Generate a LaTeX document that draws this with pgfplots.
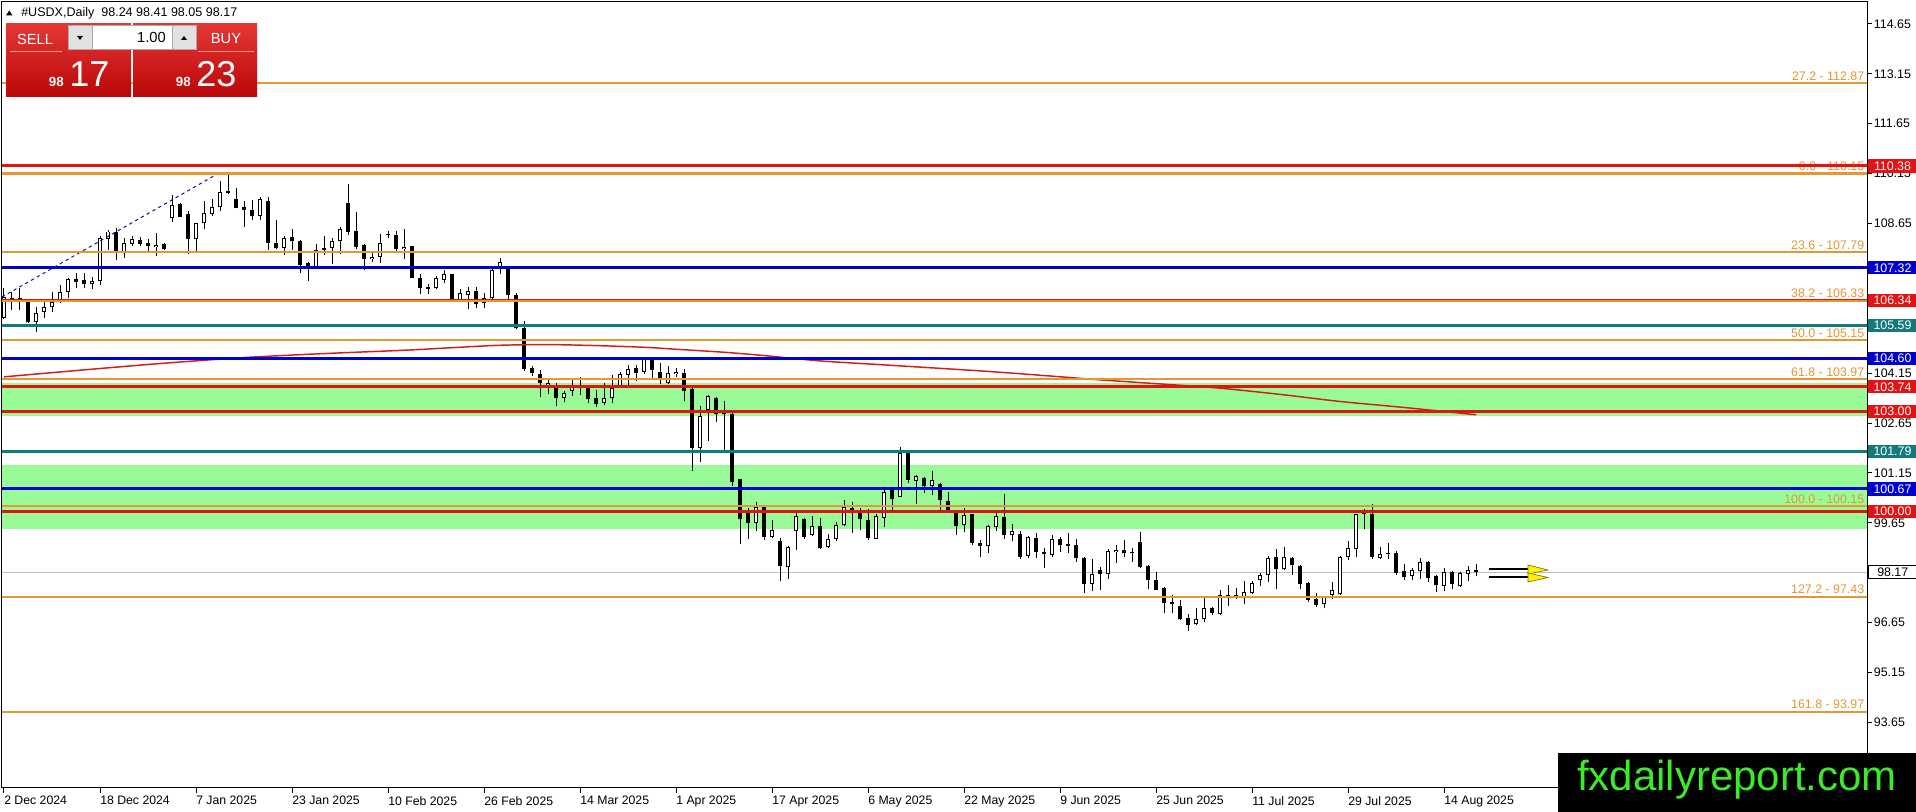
\documentclass[border=0pt]{standalone}
\usepackage{fontspec}
\setmainfont{Liberation Sans}
\usepackage{pgfplots}
\pgfplotsset{compat=1.18}
\usepackage{pgfplotstable}

\definecolor{lvred}{RGB}{228,18,18}
\definecolor{lvblue}{RGB}{0,0,210}
\definecolor{lvteal}{RGB}{18,122,122}
\definecolor{fibor}{RGB}{230,150,50}
\definecolor{zone}{RGB}{152,251,152}
\definecolor{mared}{RGB}{208,30,30}
\definecolor{wm}{RGB}{60,235,40}
\definecolor{btntop}{RGB}{228,56,54}
\definecolor{btnbot}{RGB}{186,6,6}
\definecolor{bidgray}{RGB}{190,190,190}
\definecolor{trend}{RGB}{20,20,150}
\definecolor{pinkline}{RGB}{245,150,150}
\definecolor{btngray}{RGB}{225,225,225}
\definecolor{edgegray}{RGB}{170,170,170}
\definecolor{olive2}{RGB}{120,120,0}

\pgfplotstableread{
i o h l c
0 105.80 106.70 105.77 106.45
1 106.30 106.60 106.05 106.40
2 106.40 106.70 106.05 106.35
3 106.30 106.35 105.65 105.68
4 105.68 106.15 105.40 105.95
5 105.98 106.30 105.80 106.15
6 106.13 106.60 106.00 106.30
7 106.30 106.80 106.25 106.60
8 106.60 107.00 106.40 106.97
9 106.98 107.15 106.70 106.90
10 106.95 107.15 106.70 106.82
11 106.82 107.05 106.67 106.92
12 106.92 108.26 106.80 108.21
13 108.19 108.46 107.85 108.41
14 108.38 108.51 107.55 107.83
15 107.75 108.22 107.62 108.06
16 108.03 108.28 107.97 108.19
17 108.16 108.24 107.96 108.04
18 108.07 108.19 107.83 107.96
19 107.93 108.36 107.68 108.00
20 108.03 108.06 107.85 107.88
21 108.81 109.51 108.71 109.21
22 109.23 109.26 108.84 108.86
23 108.94 109.03 107.72 108.19
24 108.19 108.68 107.83 108.66
25 108.66 109.34 108.49 108.96
26 108.94 109.38 108.88 109.14
27 109.14 109.94 109.04 109.59
28 109.63 110.15 109.54 109.56
29 109.38 109.71 109.11 109.13
30 109.15 109.34 108.56 109.07
31 109.06 109.36 108.76 108.89
32 108.89 109.44 108.76 109.38
33 109.33 109.44 107.85 108.06
34 108.06 108.76 107.87 107.92
35 107.92 108.26 107.70 108.21
36 108.24 108.48 107.85 108.11
37 108.11 108.16 107.17 107.40
38 107.47 107.50 106.93 107.35
39 107.35 108.02 107.33 107.85
40 107.85 108.26 107.70 107.90
41 107.90 108.20 107.43 108.12
42 108.12 108.56 107.72 108.49
43 109.26 109.84 108.29 108.39
44 108.43 108.99 107.87 107.95
45 108.00 108.03 107.25 107.57
46 107.57 107.77 107.50 107.65
47 107.65 108.33 107.47 108.06
48 108.31 108.43 108.21 108.34
49 108.31 108.43 107.75 107.88
50 107.87 108.48 107.58 107.95
51 107.97 107.98 107.00 107.02
52 107.02 107.12 106.52 106.72
53 106.74 106.82 106.52 106.68
54 106.70 107.07 106.67 107.00
55 106.94 107.24 106.87 107.12
56 107.12 107.14 106.33 106.35
57 106.35 106.69 106.34 106.57
58 106.49 106.74 106.07 106.62
59 106.62 106.74 106.12 106.22
60 106.27 106.57 106.10 106.42
61 106.40 107.27 106.37 107.24
62 107.34 107.62 107.12 107.49
63 107.27 107.37 106.39 106.49
64 106.49 106.57 105.47 105.50
65 105.52 105.72 104.22 104.27
66 104.30 104.37 104.07 104.17
67 104.12 104.24 103.42 103.87
68 103.77 104.02 103.52 103.87
69 103.79 103.87 103.16 103.40
70 103.40 103.62 103.29 103.55
71 103.60 104.02 103.46 103.77
72 103.74 104.04 103.49 103.79
73 103.70 103.77 103.26 103.36
74 103.39 103.63 103.14 103.21
75 103.24 103.87 103.19 103.41
76 103.39 104.09 103.26 103.72
77 103.77 104.20 103.76 104.12
78 104.10 104.40 103.77 104.27
79 104.32 104.39 103.92 104.17
80 104.20 104.64 104.14 104.57
81 104.57 104.64 104.02 104.24
82 104.19 104.45 103.84 104.02
83 103.87 104.37 103.82 104.15
84 104.12 104.32 104.04 104.19
85 104.17 104.27 103.31 103.62
86 103.67 103.72 101.21 101.91
87 101.89 103.16 101.49 102.86
88 103.04 103.49 102.11 103.46
89 103.41 103.43 102.68 102.93
90 102.91 103.31 101.83 102.96
91 102.93 102.96 100.76 100.89
92 100.96 100.98 99.01 99.76
93 99.96 100.11 99.16 99.66
94 99.66 100.29 99.41 100.13
95 100.13 100.15 99.13 99.23
96 99.24 99.73 99.19 99.43
97 99.10 99.20 97.90 98.35
98 98.31 98.95 97.97 98.93
99 99.40 99.94 98.83 99.87
100 99.77 99.81 99.18 99.23
101 99.28 99.87 99.25 99.55
102 99.55 99.81 98.86 98.88
103 98.93 99.33 98.88 99.16
104 99.16 99.69 99.10 99.58
105 99.58 100.34 99.56 100.12
106 100.11 100.29 99.36 99.99
107 99.94 100.09 99.43 99.77
108 99.74 100.07 99.13 99.20
109 99.18 99.91 99.16 99.86
110 99.81 100.74 99.53 100.59
111 100.64 100.74 99.99 100.37
112 100.44 101.94 100.42 101.75
113 101.75 101.78 100.84 100.94
114 100.91 101.10 100.21 101.05
115 101.01 101.03 100.54 100.77
116 100.76 101.22 100.49 100.94
117 100.81 100.84 99.99 100.34
118 100.31 100.57 99.97 100.01
119 99.94 99.99 99.30 99.55
120 99.58 100.09 99.38 99.89
121 99.91 99.93 99.00 99.06
122 99.06 99.15 98.63 98.95
123 98.95 99.59 98.73 99.55
124 99.53 99.94 99.40 99.87
125 99.84 100.51 99.18 99.30
126 99.28 99.63 99.10 99.40
127 99.33 99.40 98.56 98.63
128 98.65 99.26 98.58 99.23
129 99.20 99.36 98.60 98.76
130 98.78 98.90 98.30 98.70
131 98.68 99.30 98.63 99.16
132 99.16 99.23 98.78 98.98
133 98.95 99.36 98.73 99.01
134 99.00 99.18 98.48 98.58
135 98.60 98.62 97.55 97.82
136 97.82 98.56 97.59 98.10
137 98.23 98.33 97.64 98.10
138 98.10 98.86 97.97 98.81
139 98.76 98.98 98.43 98.83
140 98.83 99.13 98.63 98.73
141 98.78 98.90 98.48 98.73
142 99.08 99.38 98.30 98.33
143 98.36 98.38 97.67 97.92
144 97.92 98.18 97.62 97.64
145 97.69 97.71 96.95 97.25
146 97.27 97.47 96.95 97.20
147 97.14 97.32 96.73 96.75
148 96.79 96.92 96.39 96.59
149 96.62 97.09 96.59 96.75
150 96.75 97.39 96.67 97.09
151 97.09 97.12 96.87 96.95
152 96.92 97.62 96.87 97.49
153 97.49 97.79 97.15 97.45
154 97.45 97.69 97.37 97.47
155 97.39 97.89 97.22 97.57
156 97.54 97.89 97.52 97.85
157 97.92 98.15 97.75 98.07
158 98.07 98.65 97.87 98.59
159 98.62 98.85 97.67 98.25
160 98.25 98.92 98.22 98.62
161 98.59 98.61 98.07 98.39
162 98.35 98.37 97.65 97.82
163 97.84 97.86 97.27 97.32
164 97.37 97.55 97.12 97.17
165 97.20 97.44 97.09 97.42
166 97.47 97.87 97.37 97.62
167 97.52 98.65 97.47 98.62
168 98.62 99.10 98.52 98.90
169 98.87 99.93 98.62 99.91
170 99.91 100.06 99.48 99.93
171 99.91 100.23 98.55 98.62
172 98.60 98.92 98.55 98.70
173 98.70 99.05 98.55 98.71
174 98.75 98.79 98.09 98.15
175 98.19 98.42 97.92 98.02
176 98.04 98.29 97.92 98.22
177 98.19 98.59 97.97 98.47
178 98.47 98.49 97.87 97.99
179 98.04 98.07 97.57 97.77
180 97.74 98.29 97.59 98.17
181 98.17 98.19 97.67 97.80
182 97.75 98.18 97.73 98.14
183 98.10 98.35 97.89 98.22
184 98.24 98.41 98.05 98.17
}\candles

\pgfplotstableread{
i ma
0 104.04
10 104.25
20 104.45
30 104.62
40 104.74
50 104.84
57 104.93
62 104.99
68 105.01
74 104.98
80 104.93
84 104.87
90 104.78
95 104.68
102 104.52
110 104.40
122 104.22
130 104.08
137 103.95
145 103.82
152 103.70
160 103.50
167 103.30
175 103.12
184 102.90
}\matable

\newcommand{\hlevel}[3]{\addplot[#1, line width=#2] coordinates {(-0.25,#3) (232.875,#3)};}

\begin{document}
\begin{tikzpicture}
\useasboundingbox (0,0) rectangle (1437pt,609pt);
\fill[white] (0,0) rectangle (1437pt,609pt);
\begin{axis}[
  at={(1.5pt,18pt)}, anchor=south west,
  scale only axis, width=1398.75pt, height=589.5pt,
  xmin=-0.25, xmax=232.875, ymin=91.68, ymax=115.31,
  clip=false,
  axis line style={black, line width=0.75pt},
  xtick pos=bottom, ytick pos=right, yticklabel pos=right,
  tick align=outside, major tick length=3.75pt,
  tick style={black, line width=0.75pt},
  xtick={0,12,...,180},
  xticklabels={2 Dec 2024,18 Dec 2024,7 Jan 2025,23 Jan 2025,10 Feb 2025,26 Feb 2025,14 Mar 2025,1 Apr 2025,17 Apr 2025,6 May 2025,22 May 2025,9 Jun 2025,25 Jun 2025,11 Jul 2025,29 Jul 2025,14 Aug 2025},
  xticklabel style={font=\fontsize{9.2}{11}\selectfont, anchor=north west, inner sep=0pt, xshift=0pt, yshift=-2.2pt},
  ytick={93.65,95.15,96.65,99.65,101.15,102.65,104.15,108.65,110.15,111.65,113.15,114.65},
  yticklabels={93.65,95.15,96.65,99.65,101.15,102.65,104.15,108.65,110.15,111.65,113.15,114.65},
  yticklabel style={font=\fontsize{9.3}{11}\selectfont, anchor=west, inner sep=0pt, xshift=1.2pt},
]
% zones
\addplot[fill=zone, draw=none] coordinates {(-0.25,102.87) (232.875,102.87) (232.875,103.87) (-0.25,103.87)};
\addplot[fill=zone, draw=none] coordinates {(-0.25,99.47) (232.875,99.47) (232.875,101.40) (-0.25,101.40)};
% bid line
\hlevel{bidgray}{0.75pt}{98.17}
% candles: wicks
\addplot[draw=none, mark=none,
  error bars/.cd, y dir=plus, y explicit, error mark=none,
  error bar style={draw=black, line width=0.75pt}]
  table[x=i, y=l, y error plus expr={\thisrow{h}-\thisrow{l}}] {\candles};
% bodies
\addplot[draw=none, mark=none,
  error bars/.cd, y dir=plus, y explicit, error mark=none,
  error bar style={draw=black, line width=3.6pt}]
  table[x=i, y expr={min(\thisrow{o},\thisrow{c})}, y error plus expr={max(abs(\thisrow{c}-\thisrow{o}),0.03)}] {\candles};
% white interiors for rising candles
\addplot[draw=none, mark=none,
  error bars/.cd, y dir=plus, y explicit, error mark=none,
  error bar style={draw=white, line width=2.1pt}]
  table[x=i, y expr={min(\thisrow{o},\thisrow{c})+0.03}, y error plus expr={(\thisrow{c}>\thisrow{o})*max(\thisrow{c}-\thisrow{o}-0.06,0)}] {\candles};
% moving average
\addplot[mared, line width=1.1pt, smooth] table[x=i, y=ma] {\matable};
% fib trend line
\addplot[trend, line width=0.75pt, dash pattern=on 2.5pt off 2.5pt] coordinates {(-0.25,106.44) (26.6,110.13)};
% fib levels
\hlevel{fibor}{1.75pt}{112.87}
\hlevel{fibor}{1.75pt}{110.15}
\hlevel{fibor}{1.75pt}{107.79}
\hlevel{lvred}{2.25pt}{106.34}
\hlevel{fibor}{1.5pt}{106.33}
\hlevel{fibor}{1.75pt}{105.15}
\hlevel{fibor}{1.75pt}{103.97}
\hlevel{fibor}{1.75pt}{100.15}
\hlevel{fibor}{1.75pt}{97.43}
\hlevel{fibor}{1.75pt}{93.97}
\begin{scope}[every node/.style={anchor=south east, text=fibor, font=\fontsize{9.3}{11}\selectfont, inner sep=1.9pt}]
\node at (axis cs:232.875,112.87) {27.2 - 112.87};
\node at (axis cs:232.875,110.15) {0.0 - 110.15};
\node at (axis cs:232.875,107.79) {23.6 - 107.79};
\node at (axis cs:232.875,106.33) {38.2 - 106.33};
\node at (axis cs:232.875,105.15) {50.0 - 105.15};
\node at (axis cs:232.875,103.97) {61.8 - 103.97};
\node at (axis cs:232.875,100.15) {100.0 - 100.15};
\node at (axis cs:232.875,97.43) {127.2 - 97.43};
\node at (axis cs:232.875,93.97) {161.8 - 93.97};
\end{scope}
% horizontal levels
\hlevel{lvred}{2.25pt}{110.38}
\hlevel{lvblue}{2.25pt}{107.32}
\hlevel{lvteal}{2.25pt}{105.59}
\hlevel{lvblue}{2.25pt}{104.60}
\hlevel{lvred}{2.25pt}{103.74}
\hlevel{lvred}{2.25pt}{103.00}
\hlevel{lvteal}{2.25pt}{101.79}
\hlevel{lvblue}{2.25pt}{100.67}
\hlevel{lvred}{2.25pt}{100.00}
% price boxes on the right scale
\begin{scope}[every node/.style={anchor=west, text=white, minimum width=37.5pt, minimum height=9.9pt, inner sep=0pt, font=\fontsize{9.3}{11}\selectfont}]
\node[fill=lvred] at (axis cs:232.9,110.38) {110.38};
\node[fill=lvblue] at (axis cs:232.9,107.32) {107.32};
\node[fill=lvred] at (axis cs:232.9,106.34) {106.34};
\node[fill=lvteal] at (axis cs:232.9,105.59) {105.59};
\node[fill=lvblue] at (axis cs:232.9,104.60) {104.60};
\node[fill=lvred] at (axis cs:232.9,103.74) {103.74};
\node[fill=lvred] at (axis cs:232.9,103.00) {103.00};
\node[fill=lvteal] at (axis cs:232.9,101.79) {101.79};
\node[fill=lvblue] at (axis cs:232.9,100.67) {100.67};
\node[fill=lvred] at (axis cs:232.9,100.00) {100.00};
\node[fill=white, draw=black, line width=0.6pt, text=black, minimum width=36.5pt] at (axis cs:233.0,98.17) {98.17};
\end{scope}
\end{axis}

\begin{scope}[x=0.75pt, y=-0.75pt, shift={(0pt,609pt)}]
% title
\fill (6,15.5) -- (12.5,15.5) -- (9.25,10.5) -- cycle;
\node[anchor=west, inner sep=0pt, font=\fontsize{9.4}{11}\selectfont] at (21,13) {\#USDX,Daily\ \ 98.24 98.41 98.05 98.17};
% trade panel
\shade[top color=btntop, bottom color=btnbot] (6,24) rectangle (131,97);
\shade[top color=btntop, bottom color=btnbot] (133,24) rectangle (257,97);
\draw[pinkline, line width=0.75pt] (10,52) -- (62,52);
\draw[pinkline, line width=0.75pt] (198,52) -- (254,52);
\fill[white] (68,25) rectangle (197,50);
\filldraw[fill=btngray, draw=edgegray, line width=0.6pt] (68.5,25.5) rectangle (92,49.5);
\filldraw[fill=btngray, draw=edgegray, line width=0.6pt] (172,25.5) rectangle (196.5,49.5);
\draw[edgegray, line width=0.6pt] (68.5,25.5) rectangle (196.5,49.5);
\fill (77,36) -- (83,36) -- (80,40) -- cycle;
\fill (181,40) -- (187,40) -- (184,36) -- cycle;
\node[anchor=east, inner sep=0pt, font=\fontsize{11}{12}\selectfont] at (166,37.5) {1.00};
\node[text=white, inner sep=0pt, font=\fontsize{11}{12}\selectfont] at (35,39) {SELL};
\node[text=white, inner sep=0pt, font=\fontsize{11}{12}\selectfont] at (226,39) {BUY};
\node[text=white, anchor=base east, inner sep=0pt, font=\bfseries\fontsize{10}{12}\selectfont] at (64,87) {98};
\node[text=white, anchor=base west, inner sep=0pt, font=\fontsize{27}{30}\selectfont] at (69,87) {17};
\node[text=white, anchor=base east, inner sep=0pt, font=\bfseries\fontsize{10}{12}\selectfont] at (191,87) {98};
\node[text=white, anchor=base west, inner sep=0pt, font=\fontsize{27}{30}\selectfont] at (196,87) {23};
% arrow
\draw[black, line width=1.9pt] (1489,569) -- (1530,569);
\draw[black, line width=1.9pt] (1489,577) -- (1530,577);
\filldraw[fill=yellow, draw=olive2, line width=0.5pt] (1528,565) -- (1548,570) -- (1528,574) -- cycle;
\filldraw[fill=yellow, draw=olive2, line width=0.5pt] (1528,573) -- (1548,577.5) -- (1528,582) -- cycle;
% watermark
\fill[black] (1558,753) rectangle (1916,812);
\node[text=wm, anchor=base, inner sep=0pt, font=\fontsize{31.5}{34}\selectfont] at (1737,791) {fxdailyreport.com};
\end{scope}
\end{tikzpicture}
\end{document}
